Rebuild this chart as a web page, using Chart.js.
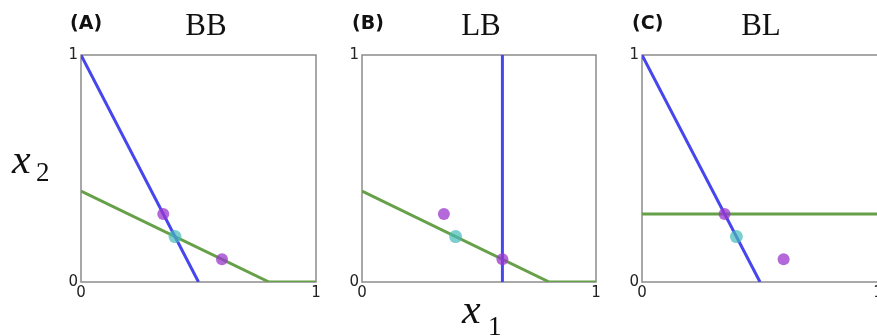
<!DOCTYPE html>
<html><head><meta charset="utf-8">
<script src="https://cdn.jsdelivr.net/npm/chart.js@4"></script>
<style>
html,body{margin:0;padding:0;background:#fff;overflow:hidden;width:877px;height:336px}
#wrap{position:relative;width:877px;height:336px;overflow:hidden}
canvas{position:absolute;left:0;top:0}
.t{position:absolute;line-height:1;white-space:nowrap;color:#111}
.pl{font-family:"DejaVu Sans";font-weight:bold;font-size:19px}
.ttl{font-family:"Liberation Serif";font-size:31px;width:100px;text-align:center}
.mi{font-family:"Liberation Serif";font-style:italic;font-size:42px}
.sub{font-family:"Liberation Serif";font-size:27px}
</style></head><body><div id="wrap">
<canvas id="c0" width="877" height="336"></canvas>
<canvas id="c1" width="877" height="336"></canvas>
<canvas id="c2" width="900" height="336"></canvas>
<div class="t pl" style="left:70px;top:13px">(A)</div>
<div class="t pl" style="left:352px;top:13px">(B)</div>
<div class="t pl" style="left:632px;top:13px">(C)</div>
<div class="t ttl" style="left:156px;top:9px">BB</div>
<div class="t ttl" style="left:431px;top:9px">LB</div>
<div class="t ttl" style="left:711px;top:9px">BL</div>
<div class="t mi" style="left:12px;top:138px">x</div>
<div class="t sub" style="left:36px;top:159px">2</div>
<div class="t mi" style="left:462px;top:288px">x</div>
<div class="t sub" style="left:488px;top:313px">1</div>
</div>
<script>
// ---- data ----
const panelLabels = ['(A)', '(B)', '(C)'];
const panelTitles = ['BB', 'LB', 'BL'];
const tickValues = [0, 1];
// blue constraint line per panel
const blueLineX = [[0, 0.5], [0.6, 0.6], [0, 0.5]];
const blueLineY = [[1, 0], [0, 1], [1, 0]];
// green constraint line per panel
const greenLineX = [[0, 0.8, 1], [0, 0.8, 1], [0, 1]];
const greenLineY = [[0.4, 0, 0], [0.4, 0, 0], [0.3, 0.3]];
// magenta points (same in all panels)
const magentaX = [0.35, 0.6];
const magentaY = [0.3, 0.1];
// cyan point
const cyanX = [0.4];
const cyanY = [0.2];

const toPts = (xs, ys) => xs.map((x, i) => ({x: x, y: ys[i]}));

const framePlugin = {
  id: 'frame',
  beforeDatasetsDraw(chart) {
    const {ctx, chartArea: a} = chart;
    ctx.save();
    ctx.strokeStyle = '#8c8c8c';
    ctx.lineWidth = 1.5;
    ctx.strokeRect(a.left, a.top, a.right - a.left, a.bottom - a.top);
    ctx.restore();
  }
};

const tickFont = {family: 'DejaVu Sans', size: 15};
const paddings = [
  {left: 65, right: 561, top: 55, bottom: 34},
  {left: 346, right: 281, top: 55, bottom: 34},
  {left: 626, right: 22, top: 55, bottom: 34}
];

function makeChart(idx) {
  const ctx = document.getElementById('c' + idx);
  new Chart(ctx, {
    type: 'scatter',
    data: {
      datasets: [
        {label: 'cyan', data: toPts(cyanX, cyanY), pointRadius: 6.5, pointHoverRadius: 6.5,
         backgroundColor: 'rgba(70,185,185,0.7)', borderWidth: 0},
        {label: 'magenta', data: toPts(magentaX, magentaY), pointRadius: 6, pointHoverRadius: 6,
         backgroundColor: 'rgba(155,55,205,0.75)', borderWidth: 0},
        {label: 'blue', data: toPts(blueLineX[idx], blueLineY[idx]), showLine: true, pointRadius: 0,
         borderColor: '#4646ee', borderWidth: 3, backgroundColor: '#4646ee'},
        {label: 'green', data: toPts(greenLineX[idx], greenLineY[idx]), showLine: true, pointRadius: 0,
         borderColor: '#66a048', borderWidth: 3, backgroundColor: '#66a048'}
      ]
    },
    options: {
      responsive: false,
      animation: false,
      devicePixelRatio: 1,
      layout: {padding: paddings[idx]},
      plugins: {legend: {display: false}, tooltip: {enabled: false}, title: {display: false}},
      scales: {
        x: {
          type: 'linear', min: 0, max: 1,
          afterBuildTicks: s => { s.ticks = tickValues.map(v => ({value: v})); },
          afterFit: s => { s.height = 20; },
          grid: {display: false, drawTicks: false},
          border: {display: false},
          ticks: {font: tickFont, color: '#222', padding: 2, maxRotation: 0, autoSkip: false,
                  callback: v => String(v)}
        },
        y: {
          type: 'linear', min: 0, max: 1,
          afterBuildTicks: s => { s.ticks = tickValues.map(v => ({value: v})); },
          afterFit: s => { s.width = 16; },
          grid: {display: false, drawTicks: false},
          border: {display: false},
          ticks: {font: tickFont, color: '#222', padding: 3, autoSkip: false,
                  callback: v => String(v)}
        }
      }
    },
    plugins: [framePlugin]
  });
}
[0, 1, 2].forEach(makeChart);
</script>
</body></html>
